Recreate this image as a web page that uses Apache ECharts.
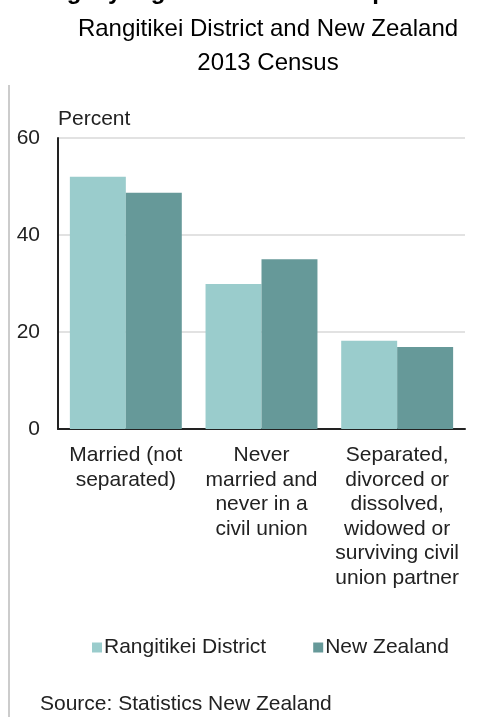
<!DOCTYPE html>
<html>
<head>
<meta charset="utf-8">
<script src="https://cdn.jsdelivr.net/npm/echarts@6/dist/echarts.min.js"></script>
<style>
html,body{margin:0;padding:0;background:#fff;}
#chart{width:503px;height:717px;}
</style>
</head>
<body>
<div id="chart"></div>
<script>
var titleText = 'Legally registered relationship status';
var subtitleLines = ['Rangitikei District and New Zealand', '2013 Census'];
var sourceText = 'Source: Statistics New Zealand';
var axisName = 'Percent';

var categories = [
  'Married (not\nseparated)',
  'Never\nmarried and\nnever in a\ncivil union',
  'Separated,\ndivorced or\ndissolved,\nwidowed or\nsurviving civil\nunion partner'
];
var seriesNames = ['Rangitikei District', 'New Zealand'];
var rangitikei = [52.0, 29.9, 18.2];
var newZealand = [48.7, 35.0, 16.9];
var yTicks = { min: 0, max: 60, interval: 20 };

var FONT = 'Liberation Sans, Arial, sans-serif';
var chart = echarts.init(document.getElementById('chart'), null, { renderer: 'canvas' });

chart.setOption({
  animation: false,
  backgroundColor: '#ffffff',
  textStyle: { fontFamily: FONT },
  title: [
    {
      text: titleText,
      left: 'center',
      top: -25,
      textStyle: { fontFamily: FONT, fontSize: 24, fontWeight: 'bold', color: '#000' }
    },
    {
      text: subtitleLines.join('\n'),
      left: 263,
      textAlign: 'center',
      top: 8,
      textStyle: { fontFamily: FONT, fontSize: 24, fontWeight: 'normal', color: '#000', lineHeight: 33.5 }
    },
    {
      text: sourceText,
      left: 35,
      top: 689,
      textStyle: { fontFamily: FONT, fontSize: 21, fontWeight: 'normal', color: '#222' }
    }
  ],
  legend: {
    left: 87,
    top: 632,
    icon: 'rect',
    itemWidth: 10,
    itemHeight: 10,
    itemGap: 47,
    textStyle: { fontFamily: FONT, fontSize: 21, color: '#222', padding: [0, 0, 0, -3] },
    data: seriesNames
  },
  grid: { left: 58, right: 38, top: 138, bottom: 288, containLabel: false },
  xAxis: {
    type: 'category',
    data: categories,
    axisLine: { show: true, lineStyle: { color: '#222', width: 2 } },
    axisTick: { show: false },
    axisLabel: {
      interval: 0,
      margin: 14,
      fontFamily: FONT,
      fontSize: 21,
      lineHeight: 24.6,
      color: '#222',
      align: 'center'
    }
  },
  yAxis: {
    type: 'value',
    min: yTicks.min,
    max: yTicks.max,
    interval: yTicks.interval,
    name: axisName,
    nameLocation: 'end',
    nameGap: 8,
    nameTextStyle: { fontFamily: FONT, fontSize: 21, color: '#222', align: 'left' },
    axisLine: { show: true, lineStyle: { color: '#222', width: 2 } },
    axisTick: { show: false },
    axisLabel: { margin: 18, fontFamily: FONT, fontSize: 21, color: '#222' },
    splitLine: { show: true, lineStyle: { color: '#d9d9d9', width: 1.5 } }
  },
  series: [
    {
      name: seriesNames[0],
      type: 'bar',
      data: rangitikei,
      barGap: '0%',
      barCategoryGap: '17.5%',
      itemStyle: { color: '#9acccc' }
    },
    {
      name: seriesNames[1],
      type: 'bar',
      data: newZealand,
      barGap: '0%',
      barCategoryGap: '17.5%',
      itemStyle: { color: '#669999' }
    }
  ],
  graphic: [
    {
      type: 'line',
      shape: { x1: 9, y1: 85, x2: 9, y2: 717 },
      style: { stroke: '#cccccc', lineWidth: 2 },
      silent: true
    }
  ]
});
</script>
</body>
</html>
